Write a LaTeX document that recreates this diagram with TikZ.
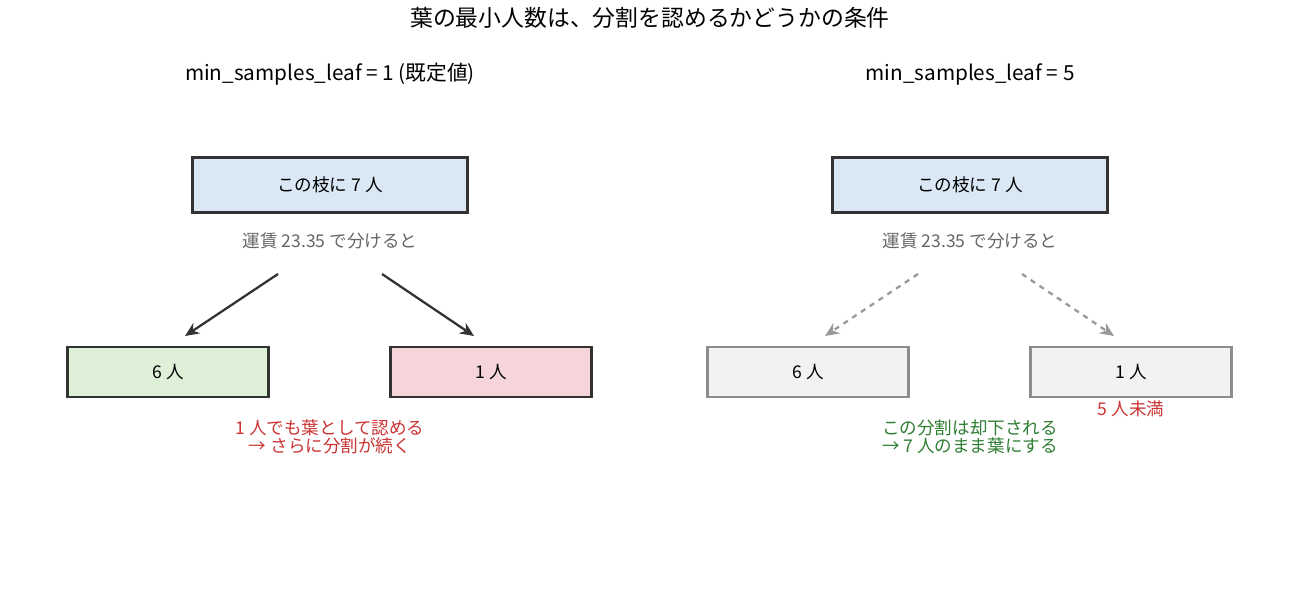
\documentclass[tikz,border=0pt]{standalone}
\usepackage{fontspec}
\setmainfont{Noto Sans CJK JP}
\usepackage{xcolor}
\usetikzlibrary{positioning,arrows.meta}
\definecolor{topblue}{HTML}{DAE8F5}
\definecolor{leafgreen}{HTML}{DFF0D8}
\definecolor{leafpink}{HTML}{F6D5DA}
\definecolor{offgray}{HTML}{F2F2F2}
\definecolor{warnred}{HTML}{CC3333}
\definecolor{okgreen}{HTML}{2E7D32}

\begin{document}
\begin{tikzpicture}[x=0.02cm,y=-0.02cm,
    box/.style={shape=rectangle, draw=black!80, line width=1.3pt, font=\fontsize{10}{12}\selectfont},
    topbox/.style={box, fill=topblue, minimum width=5.5cm, minimum height=1.1cm},
    leaf/.style={box, minimum width=4.02cm, minimum height=1cm},
    offleaf/.style={leaf, draw=black!45, fill=offgray},
    note/.style={font=\fontsize{10}{10.5}\selectfont, align=center},
    split/.style={line width=1.3pt, draw=black!80, -{Stealth[length=8pt,width=7pt]}},
    nosplit/.style={line width=1.3pt, draw=black!40, dashed, -{Stealth[length=8pt,width=7pt]}}]
    \useasboundingbox (0,0) rectangle (1300,598);
    \node (title) at (650,18) {\fontsize{13}{14}\selectfont 葉の最小人数は、分割を認めるかどうかの条件};

    % left: default
    \node (headL) at (330,74) {\fontsize{11.8}{13}\selectfont min\_samples\_leaf = 1 (既定値)};
    \node[topbox] (rootL) at (330,185) {この枝に 7 人};
    \node[note, text=black!60] (cutL) at (330,241) {運賃 23.35 で分けると};
    \node[leaf, fill=leafgreen] (sixL) at (168,372) {6 人};
    \node[leaf, fill=leafpink] (oneL) at (491,372) {1 人};
    \coordinate (aL) at (278,274);
    \coordinate (bL) at (382,274);
    \draw[split] (aL) -- (185,336);
    \draw[split] (bL) -- (474,336);
    \node[note, text=warnred] (okL) at (330,437) {1 人でも葉として認める\\→ さらに分割が続く};

    % right: min 5
    \node (headR) at (970,74) {\fontsize{11.8}{13}\selectfont min\_samples\_leaf = 5};
    \node[topbox] (rootR) at (970,185) {この枝に 7 人};
    \node[note, text=black!60] (cutR) at (970,241) {運賃 23.35 で分けると};
    \node[offleaf] (sixR) at (808,372) {6 人};
    \node[offleaf] (oneR) at (1131,372) {1 人};
    \coordinate (aR) at (918,274);
    \coordinate (bR) at (1022,274);
    \draw[nosplit] (aR) -- (825,336);
    \draw[nosplit] (bR) -- (1114,336);
    \node[note, text=warnred] (tooFew) at (1131,409) {5 人未満};
    \node[note, text=okgreen] (ngR) at (970,437) {この分割は却下される\\→ 7 人のまま葉にする};
\end{tikzpicture}
\end{document}
